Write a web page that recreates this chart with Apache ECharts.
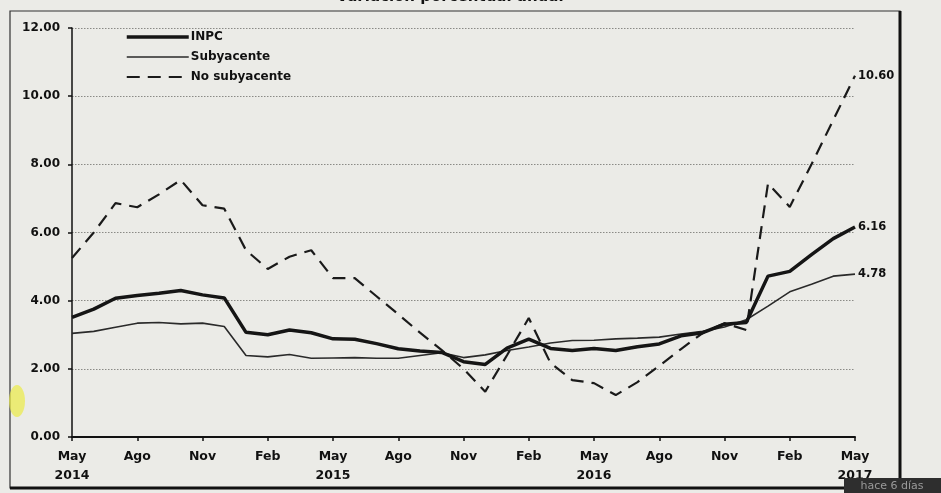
<!DOCTYPE html>
<html>
<head>
<meta charset="utf-8">
<script src="https://cdn.jsdelivr.net/npm/echarts@6/dist/echarts.min.js"></script>
<style>
html,body{margin:0;padding:0;background:#ebebe7;}
#c{width:941px;height:493px;}
</style>
</head>
<body>
<div id="c"></div>
<script>
const months = [
  'May\n2014','Jun','Jul','Ago','Sep','Oct','Nov','Dic',
  'Ene','Feb','Mar','Abr','May\n2015','Jun','Jul','Ago','Sep','Oct','Nov','Dic',
  'Ene','Feb','Mar','Abr','May\n2016','Jun','Jul','Ago','Sep','Oct','Nov','Dic',
  'Ene','Feb','Mar','Abr','May\n2017'
];
const inpc = [
  3.51,3.75,4.07,4.15,4.22,4.30,4.17,4.08,
  3.07,3.00,3.14,3.06,2.88,2.87,2.74,2.59,2.52,2.48,2.21,2.13,
  2.61,2.87,2.60,2.54,2.60,2.54,2.65,2.73,2.97,3.06,3.31,3.36,
  4.72,4.86,5.35,5.82,6.16
];
const subyacente = [
  3.04,3.10,3.22,3.34,3.36,3.32,3.34,3.24,
  2.39,2.35,2.42,2.31,2.32,2.33,2.31,2.31,2.39,2.47,2.33,2.41,
  2.54,2.64,2.76,2.83,2.84,2.88,2.90,2.93,3.02,3.10,3.23,3.44,
  3.84,4.26,4.48,4.72,4.78
];
const noSubyacente = [
  5.25,6.00,6.86,6.74,7.12,7.54,6.80,6.70,
  5.48,4.93,5.29,5.48,4.66,4.66,4.13,3.60,3.06,2.55,2.00,1.33,
  2.40,3.49,2.17,1.67,1.58,1.23,1.61,2.09,2.58,3.05,3.34,3.14,
  7.44,6.75,8.00,9.30,10.60
];
const seriesNames = ['INPC','Subyacente','No subyacente'];
const title = 'Variación porcentual anual';

const FONT = '"DejaVu Sans", "Liberation Sans", Arial, sans-serif';
const chart = echarts.init(document.getElementById('c'), null, {renderer:'canvas'});
const endLbl = {
  show: true, distance: 3, fontFamily: FONT, fontWeight: 'bold', fontSize: 11.5, color: '#111',
  formatter: p => Number(p.value).toFixed(2)
};
chart.setOption({
  backgroundColor: '#ebebe7',
  animation: false,
  grid: {left: 72, right: 86, top: 28, bottom: 56},
  legend: {
    orient: 'vertical', left: 120, top: 26, itemWidth: 62, itemHeight: 12, itemGap: 8,
    itemStyle: {opacity: 0},
    textStyle: {fontFamily: FONT, fontWeight: 'bold', fontSize: 12, color: '#111', padding: [0,0,0,-3]},
    data: [
      {name: seriesNames[0], lineStyle: {width: 3.5}},
      {name: seriesNames[1], lineStyle: {width: 1.6}},
      {name: seriesNames[2], lineStyle: {width: 2.2, type: [13,8]}}
    ]
  },
  xAxis: {
    type: 'category', data: months, boundaryGap: false,
    axisLine: {lineStyle: {color: '#111', width: 2}},
    axisTick: {interval: 2, length: 4, lineStyle: {color: '#111', width: 1.5}},
    axisLabel: {interval: 2, fontFamily: FONT, fontWeight: 'bold', fontSize: 12.5, color: '#111', lineHeight: 19, margin: 10},
    splitLine: {show: false}
  },
  yAxis: {
    type: 'value', min: 0, max: 12, interval: 2,
    axisLine: {show: true, lineStyle: {color: '#111', width: 1.5}},
    axisTick: {show: true, length: 4, lineStyle: {color: '#111', width: 1.5}},
    axisLabel: {formatter: v => v.toFixed(2), fontFamily: FONT, fontWeight: 'bold', fontSize: 12, color: '#111', margin: 12},
    splitLine: {show: true, lineStyle: {color: '#8a8a86', type: [1.5,1.5], width: 1}}
  },
  series: [
    {name: seriesNames[0], type: 'line', data: inpc, symbol: 'none', color: '#151515',
     lineStyle: {width: 3.5, color: '#151515'}, endLabel: endLbl, z: 4},
    {name: seriesNames[1], type: 'line', data: subyacente, symbol: 'none', color: '#2a2a2a',
     lineStyle: {width: 1.6, color: '#2a2a2a'}, endLabel: endLbl, z: 3},
    {name: seriesNames[2], type: 'line', data: noSubyacente, symbol: 'none', color: '#1a1a1a',
     lineStyle: {width: 2.2, color: '#1a1a1a', type: [13,8]}, endLabel: endLbl, z: 2}
  ],
  graphic: [
    {type: 'rect', shape: {x: 10, y: 11, width: 890, height: 477}, style: {fill: 'none', stroke: '#333', lineWidth: 1.2}, z: 0, silent: true},
    {type: 'line', shape: {x1: 900, y1: 11, x2: 900, y2: 488}, style: {stroke: '#111', lineWidth: 3}, silent: true},
    {type: 'line', shape: {x1: 10, y1: 488, x2: 900, y2: 488}, style: {stroke: '#111', lineWidth: 3}, silent: true},
    {type: 'text', x: 450, y: -10, style: {text: title, fontFamily: FONT, fontWeight: 'bold', fontSize: 15, fill: '#111', align: 'center', verticalAlign: 'top'}, silent: true},
    {type: 'ellipse', shape: {cx: 17, cy: 401, rx: 8, ry: 16}, style: {fill: 'rgba(235,235,70,0.7)'}, silent: true},
    {type: 'rect', shape: {x: 844, y: 478, width: 97, height: 15}, style: {fill: '#2e2e2e'}, z: 10, silent: true},
    {type: 'text', x: 892, y: 486, z: 11, style: {text: 'hace 6 días', fontFamily: FONT, fontSize: 11, fill: '#9a9a9a', align: 'center', verticalAlign: 'middle'}, silent: true}
  ]
});
</script>
</body>
</html>
